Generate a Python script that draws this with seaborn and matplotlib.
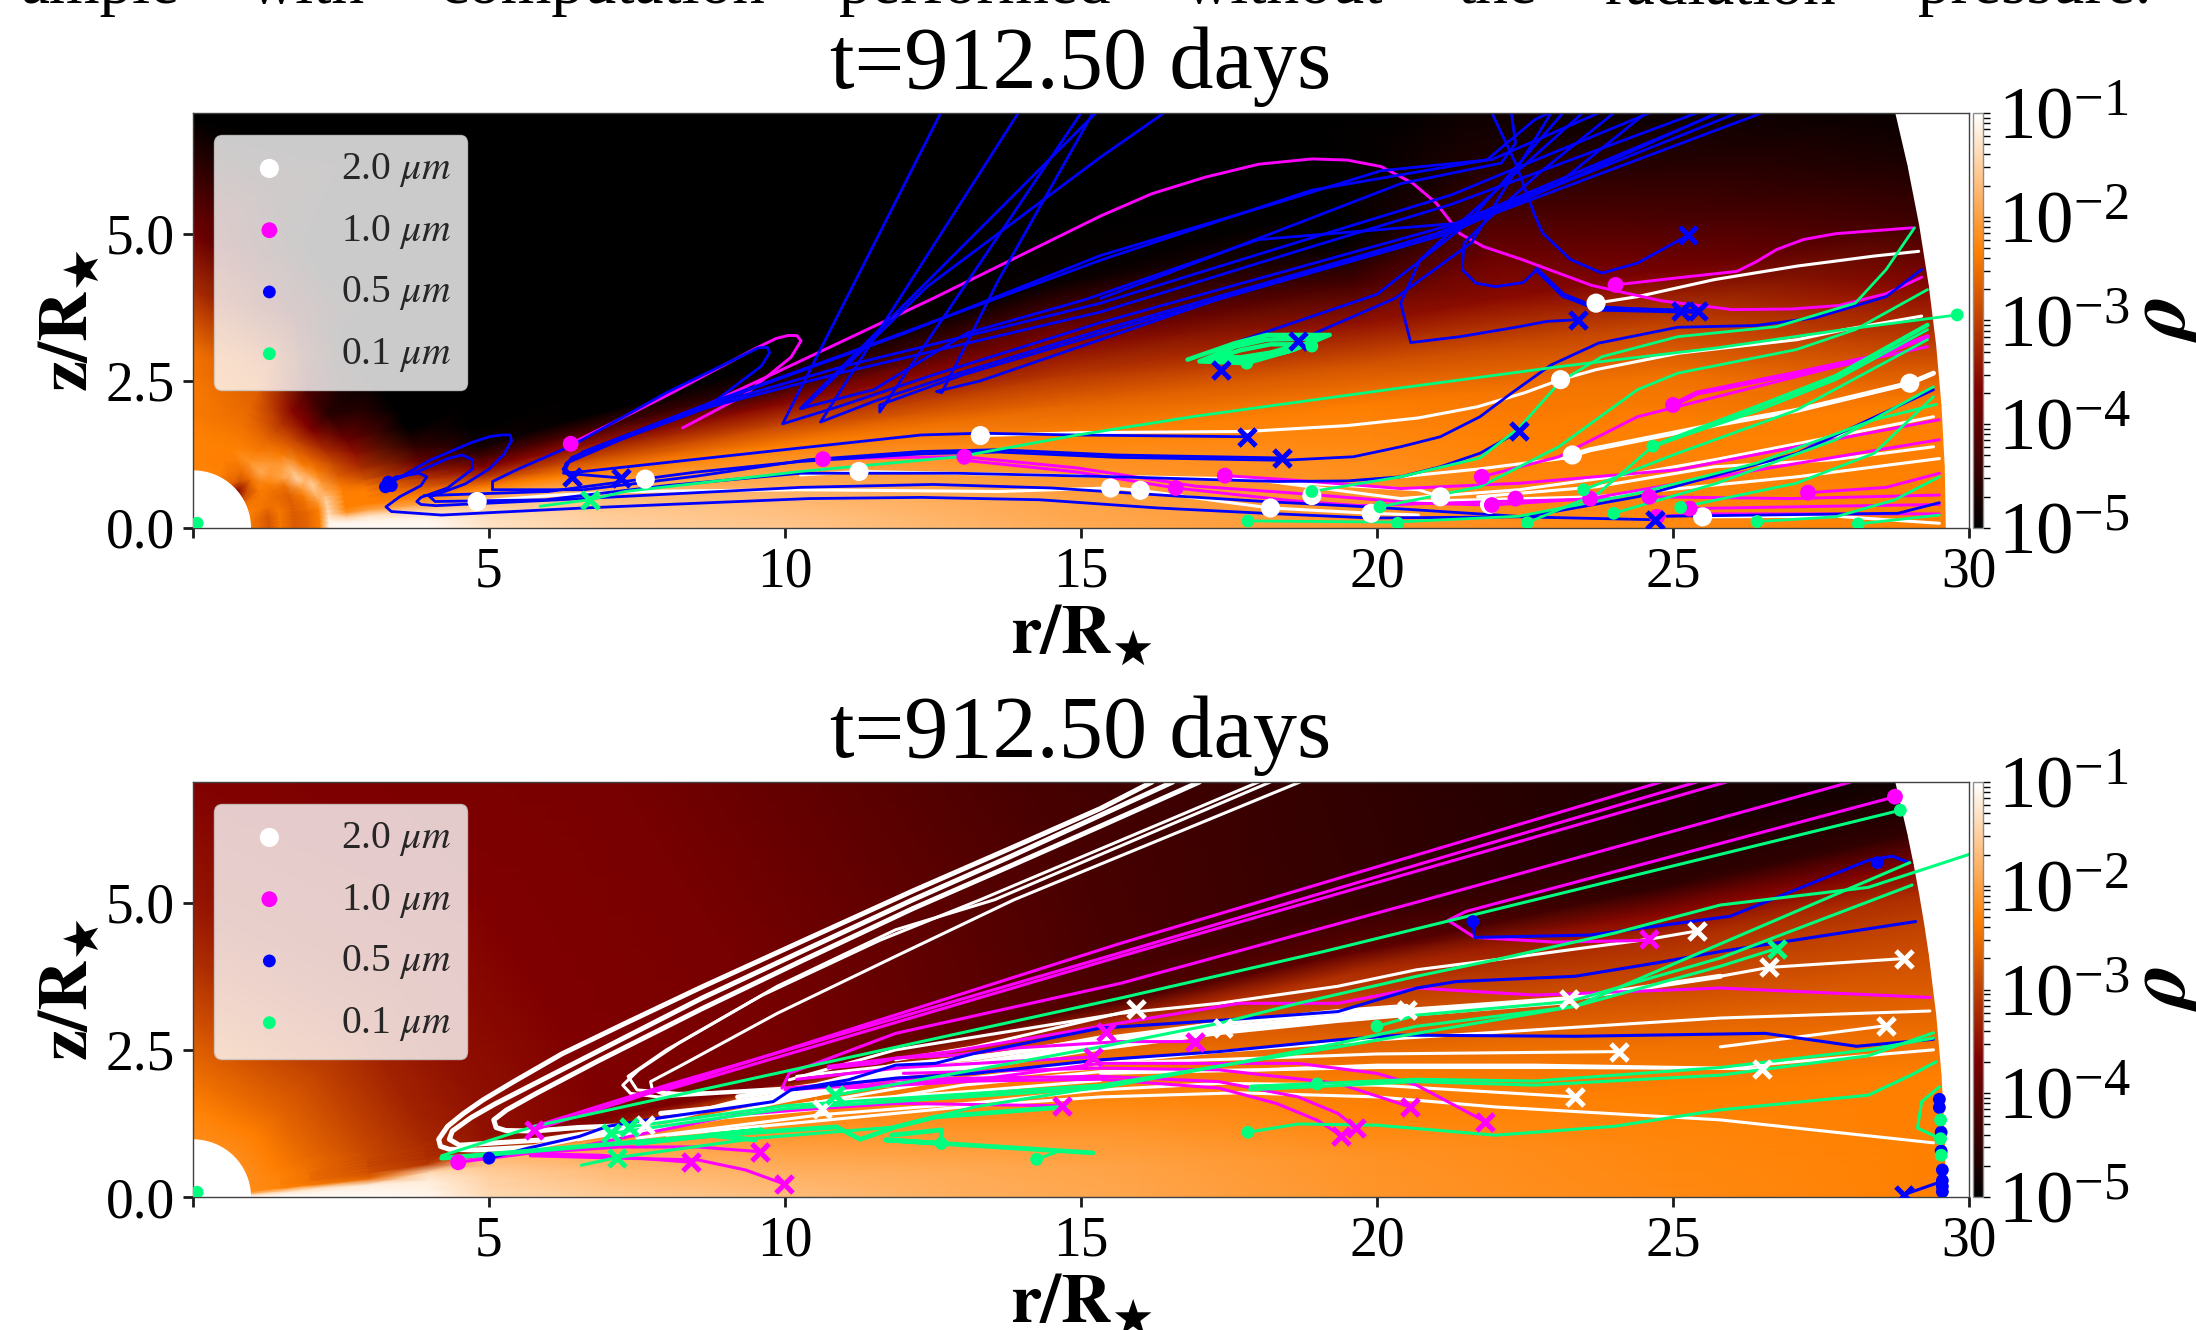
import numpy as np
import matplotlib
matplotlib.use("Agg")
import matplotlib.pyplot as plt
from matplotlib.colors import LinearSegmentedColormap, LogNorm
from matplotlib.patches import Circle
from matplotlib.ticker import LogLocator, NullFormatter
import seaborn as sns

title_text = "t=912.50 days"
para_words = ["ample", "with", "computation", "performed", "without", "the", "radiation", "pressure."]
para_left_px = [21, 249, 439, 839, 1184, 1457, 1605, 1918]
x_ticks = [0, 5, 10, 15, 20, 25, 30]
x_tick_labels = ["", "5", "10", "15", "20", "25", "30"]
y_ticks = [0.0, 2.5, 5.0]
y_tick_labels = ["0.0", "2.5", "5.0"]
grain_labels = ["2.0 $\\mu m$", "1.0 $\\mu m$", "0.5 $\\mu m$", "0.1 $\\mu m$"]
grain_colors = ["#ffffff", "#ff00ff", "#0000ff", "#00ff7f"]
grain_sizes = [190, 130, 85, 85]

# log10 density, one row per radius, one column per angle
top_r = [0.98, 1.28, 1.48, 1.71, 1.95, 2.15, 2.3, 2.6, 3, 4, 5, 7, 10, 15, 20, 22.5, 25, 29.6]
top_theta = [0, 2, 4, 6, 8, 10, 12, 14, 16, 20, 25, 30, 40, 50, 65, 90]
top_log_rho = [
    [-2.33, -2.33, -2.33, -2.33, -2.33, -2.3, -2.3, -2.3, -2.3, -2.4, -2.5, -2.9, -3.6, -2.6, -2.3, -2.3],
    [-2.8, -2.8, -2.8, -2.8, -2.8, -2.75, -2.7, -2.6, -2.5, -2.45, -2.4, -2.4, -2.5, -2.5, -2.35, -2.3],
    [-2.4, -2.4, -2.4, -2.4, -2.4, -2.4, -2.4, -2.45, -2.5, -2.55, -2.5, -2.35, -1.9, -2.15, -2.33, -2.3],
    [-2.75, -2.75, -2.75, -2.75, -2.75, -2.7, -2.7, -2.7, -2.7, -2.65, -2.5, -2.0, -2.1, -2.4, -2.4, -2.35],
    [-2.6, -2.6, -2.6, -2.6, -2.6, -2.5, -2.5, -2.45, -2.4, -2.1, -1.5, -1.7, -2.4, -2.6, -2.5, -2.4],
    [-2.33, -2.33, -2.33, -2.33, -2.33, -2.25, -2.1, -1.9, -1.7, -1.5, -2.0, -2.4, -2.7, -2.9, -2.55, -2.4],
    [-1.1, -1.1, -1.2, -1.3, -1.4, -1.45, -1.5, -1.7, -1.9, -2.1, -2.4, -2.6, -3.0, -3.1, -2.6, -2.4],
    [-1.05, -1.1, -1.5, -2.2, -2.33, -2.33, -2.33, -2.33, -2.4, -2.7, -2.9, -3.2, -3.7, -3.6, -2.7, -2.45],
    [-1.05, -1.1, -1.3, -2.0, -2.33, -2.33, -2.33, -2.5, -2.8, -3.2, -3.5, -3.9, -4.6, -4.2, -2.9, -2.5],
    [-1.05, -1.1, -1.4, -2.0, -2.33, -2.7, -3.1, -3.5, -3.9, -4.5, -5, -5, -5, -5, -4.2, -3.2],
    [-1.3, -1.35, -1.5, -1.8, -2.33, -3.1, -3.7, -4.3, -4.8, -5, -5, -5, -5, -5, -5, -3.8],
    [-1.5, -1.55, -1.7, -1.95, -2.33, -2.9, -3.5, -4.3, -5, -5, -5, -5, -5, -5, -5, -5],
    [-1.6, -1.7, -1.85, -2.05, -2.33, -2.95, -3.6, -4.6, -5, -5, -5, -5, -5, -5, -5, -5],
    [-1.9, -2.0, -2.15, -2.3, -2.6, -3.1, -3.6, -4.2, -4.9, -5, -5, -5, -5, -5, -5, -5],
    [-2.1, -2.15, -2.25, -2.35, -2.8, -3.5, -4.3, -5, -5, -5, -5, -5, -5, -5, -5, -5],
    [-2.2, -2.28, -2.33, -2.45, -2.9, -3.55, -3.9, -4.3, -4.7, -5, -5, -5, -5, -5, -5, -5],
    [-2.25, -2.3, -2.33, -2.5, -3.0, -3.75, -4.2, -4.55, -4.85, -5, -5, -5, -5, -5, -5, -5],
    [-2.33, -2.33, -2.33, -3.0, -3.6, -4.3, -4.7, -4.95, -5, -5, -5, -5, -5, -5, -5, -5],
]

# same for the lower panel
bot_r = [0.98, 1.5, 2, 3, 4, 5, 7, 10, 13, 16, 20, 25, 29.6]
bot_theta = [0, 2, 4, 6, 8, 9, 10, 11, 12, 14, 20, 45, 90]
bot_log_rho = [
    [-1.1, -1.3, -2.0, -2.2, -2.2, -2.2, -2.2, -2.2, -2.2, -2.2, -2.2, -2.2, -2.2],
    [-1.05, -1.1, -1.6, -2.3, -2.3, -2.3, -2.3, -2.3, -2.3, -2.3, -2.35, -2.35, -2.3],
    [-1.05, -1.1, -1.3, -2.4, -2.5, -2.5, -2.5, -2.5, -2.5, -2.5, -2.55, -2.6, -2.5],
    [-1.05, -1.1, -1.2, -2.6, -2.85, -2.85, -2.9, -2.9, -2.9, -2.9, -2.95, -3.0, -2.85],
    [-1.1, -1.15, -1.2, -1.4, -3.1, -3.15, -3.2, -3.2, -3.2, -3.25, -3.3, -3.3, -3.2],
    [-1.4, -1.45, -1.5, -1.6, -1.75, -3.3, -3.4, -3.45, -3.5, -3.5, -3.5, -3.5, -3.45],
    [-1.55, -1.65, -1.75, -1.9, -2.1, -2.3, -3.6, -3.67, -3.67, -3.67, -3.67, -3.67, -3.65],
    [-1.7, -1.8, -1.95, -2.1, -2.3, -2.4, -2.7, -3.75, -3.75, -3.75, -3.75, -3.75, -3.7],
    [-1.85, -1.9, -2.05, -2.2, -2.35, -2.5, -2.65, -3.3, -4.0, -4.0, -4.0, -4.0, -4.0],
    [-1.95, -2.0, -2.12, -2.28, -2.42, -2.55, -2.7, -3.3, -4.2, -4.25, -4.25, -4.25, -4.25],
    [-2.12, -2.15, -2.3, -2.4, -2.7, -2.85, -3.05, -3.2, -4.0, -4.45, -4.45, -4.45, -4.45],
    [-2.25, -2.28, -2.33, -2.5, -2.85, -3.0, -3.2, -3.6, -4.5, -4.65, -4.65, -4.65, -4.65],
    [-2.33, -2.33, -2.33, -2.6, -2.85, -3.0, -3.2, -3.7, -4.5, -4.85, -4.85, -4.85, -4.85],
]

# top panel trajectories (r, z)
top_white = [
    [(13.3, 1.57), (15, 1.62), (17.8, 1.64), (19.5, 1.74), (20.7, 1.87), (21.7, 2.06), (22.5, 2.3), (23.1, 2.52), (23.7, 2.69), (25.1, 2.97), (27.1, 3.2), (27.9, 3.37), (29.2, 3.6)],
    [(23.7, 3.82), (24.4, 3.93), (25.7, 4.22), (27.1, 4.45), (28.4, 4.62), (29.15, 4.7)],
    [(20.4, 0.87), (21.7, 1.0), (23.2, 1.19)],
    [(17.43, 0.89), (20.4, 0.5), (22.4, 0.65), (24.4, 0.93), (25.7, 1.16), (27.7, 1.55), (29.4, 1.89)],
    [(21.7, 0.53), (23.7, 0.7), (25.7, 1.04), (27.7, 1.16), (29.4, 1.38)],
    [(20.5, 0.45), (23.7, 0.53), (27.1, 0.87), (29.5, 1.18)],
    [(25.5, 0.19), (27.75, 0.2), (29.5, 0.08)],
    [(10.26, 0.9), (11.25, 0.96), (14.3, 0.9), (17.43, 0.84), (20.7, 0.65), (21.07, 0.53)],
    [(4.8, 0.45), (6, 0.55), (7.3, 0.62), (10.26, 0.65), (13.6, 0.62), (15.5, 0.68), (16, 0.64), (17.6, 0.42), (18.2, 0.34), (19.9, 0.25), (20.7, 0.22)],
]
top_white_thick = [
    [(23.3, 1.24), (23.6, 1.33), (24.7, 1.55), (25.7, 1.75), (27.1, 2.0), (29.0, 2.46), (29.4, 2.63)],
]
top_white_start = [(13.3, 1.57), (23.1, 2.52), (23.7, 3.82), (29.0, 2.46), (23.3, 1.24), (21.07, 0.53), (25.5, 0.19),
                   (11.25, 0.96), (4.8, 0.45), (7.64, 0.83), (15.5, 0.68), (16, 0.64), (18.2, 0.34), (18.9, 0.55), (19.9, 0.25), (21.9, 0.4)]

top_magenta = [
    [(6.38, 1.43), (8, 2.25), (9.5, 3.05), (9.85, 3.22), (10.05, 3.27), (10.2, 3.27), (10.27, 3.18), (10.1, 2.9), (9.3, 2.25), (8.27, 1.7)],
    [(8.7, 2.1), (10.5, 2.95), (12.5, 3.9), (15.33, 5.3), (16.2, 5.68), (17.1, 5.96), (18, 6.18), (18.9, 6.27), (19.5, 6.25), (20.07, 6.14), (20.6, 5.86), (21, 5.52), (21.4, 5.0), (21.8, 4.78), (22.45, 4.56), (23.63, 4.12), (24.8, 3.86), (26, 3.71), (27, 3.72), (27.8, 3.78), (28.6, 3.98), (29.2, 4.26)],
    [(24.03, 4.13), (25.08, 4.25), (26.08, 4.36), (26.4, 4.52), (26.75, 4.73), (27.2, 4.9), (27.75, 5.0), (29.05, 5.1)],
    [(21.77, 0.87), (23.07, 1.21), (24.4, 1.89), (25.74, 2.23), (27.75, 2.74), (29.3, 3.08)],
    [(27.28, 0.6), (28.6, 0.69), (29.5, 0.93)],
    [(24.6, 0.53), (27, 0.5), (29.5, 0.56)],
    [(25.28, 0.33), (29.5, 0.4)],
    [(24.73, 0.19), (25.5, 0.24), (29.5, 0.24)],
    [(17.43, 0.89), (18.5, 0.82), (20.4, 0.67), (22.4, 0.76), (25.08, 0.99), (27.08, 1.38), (29.5, 1.84)],
    [(10.64, 1.17), (12, 1.2), (13.03, 1.21), (14.94, 1.02), (16.94, 0.71), (18.5, 0.6), (20.73, 0.42), (21.94, 0.39), (23.6, 0.5), (25.74, 0.87), (29.5, 1.5)],
    [(13.03, 1.15), (14.94, 0.95), (16.6, 0.68), (18.5, 0.47), (19.7, 0.38), (22, 0.45), (24, 0.5)],
]
top_magenta_thick = [
    [(25.0, 2.09), (25.4, 2.29), (27.08, 2.63), (28.4, 2.91), (29.3, 3.25)],
]
top_magenta_start = [(6.38, 1.43), (24.03, 4.13), (25.0, 2.09), (21.77, 0.87), (27.28, 0.6), (21.94, 0.39), (22.34, 0.5),
                     (23.6, 0.5), (24.6, 0.53), (25.28, 0.33), (24.73, 0.19), (10.64, 1.17), (13.03, 1.21), (16.6, 0.68), (17.43, 0.89)]

top_blue = [
    [(3.22, 0.73), (3.42, 0.87), (3.82, 0.93), (3.95, 0.87), (3.85, 0.72), (3.49, 0.53), (3.26, 0.36), (3.35, 0.28), (4.2, 0.22), (6.6, 0.34), (10.4, 0.5), (12.3, 0.52), (14.3, 0.48), (16.3, 0.34), (18.1, 0.25), (19.9, 0.17), (22.4, 0.19), (24.7, 0.14)],
    [(3.29, 0.78), (3.9, 1.0), (4.3, 1.18), (4.55, 1.24), (4.72, 1.16), (4.72, 1.0), (4.3, 0.68), (3.85, 0.52), (3.78, 0.45), (3.85, 0.4), (4.1, 0.38), (6.0, 0.47), (8.5, 0.6), (10.26, 0.69), (12.5, 0.74), (14.5, 0.68), (16.5, 0.55), (18.1, 0.45), (20, 0.35), (22.5, 0.19), (24.4, 0.53), (27.1, 1.27), (29.4, 2.35)],
    [(3.3, 0.75), (4.0, 1.15), (4.7, 1.45), (5.0, 1.55), (5.2, 1.58), (5.36, 1.58), (5.38, 1.48), (5.25, 1.25), (5.0, 1.0), (4.6, 0.75), (4.2, 0.6), (4.0, 0.53), (4.09, 0.45), (5.96, 0.48), (8, 0.72), (10.26, 0.93), (12.9, 0.93), (15.6, 0.87), (18.3, 0.79), (19.5, 0.8), (20.4, 0.87), (21.07, 1.04), (21.74, 1.27), (22.4, 1.64)],
    [(5.06, 0.65), (6.6, 0.65), (8.5, 0.88), (10.4, 1.16), (12.3, 1.3), (13.6, 1.33), (15.6, 1.24), (18.4, 1.19)],
    [(3.9, 0.55), (6.0, 0.62), (8.5, 0.95), (10.26, 1.13), (12.3, 1.26), (13.6, 1.29), (15.6, 1.2), (18.4, 1.15), (19.6, 1.21), (20.4, 1.38), (21.07, 1.55), (21.74, 1.89), (22.27, 2.29), (22.94, 2.77), (23.74, 3.14), (25.08, 3.41), (26.4, 3.44), (27.4, 3.57), (28.6, 3.93), (29.2, 4.39)],
    [(17.8, 1.55), (14.9, 1.58), (13.3, 1.61), (12.3, 1.58), (10.26, 1.36), (6.6, 0.96), (6.26, 0.93), (6.3, 1.1), (6.6, 1.3), (8.77, 2.14), (11, 2.95), (15.33, 4.55), (18.9, 5.74), (21.85, 6.25), (22.67, 6.94), (22.9, 7.05)],
    [(5.06, 0.65), (5.06, 0.79), (5.49, 1.0), (6.4, 1.4), (8.0, 2.3), (9.55, 3.06), (9.7, 3.07), (9.74, 2.98), (9.6, 2.75), (8.77, 2.12), (12, 3.3), (15.33, 4.63), (18.3, 5.52), (20.07, 6.07), (21.94, 6.26), (23.74, 7.05)],
    [(6.4, 0.87), (6.27, 0.95), (6.35, 1.12), (7.5, 1.62), (8.77, 2.1), (11, 2.75), (15.33, 3.82), (18.9, 4.93), (21.26, 5.66), (24.6, 7.05)],
    [(7.23, 0.85), (6.4, 0.92), (6.25, 1.0), (6.4, 1.2), (8.7, 2.05), (11, 2.65), (15.33, 3.67), (18.9, 4.78), (21.26, 5.5), (25.4, 7.05)],
    [(12.63, 7.05), (9.96, 1.77), (10.93, 2.07), (12.5, 2.6), (15.33, 3.49), (21.26, 5.15), (25.77, 7.05)],
    [(13.94, 7.05), (10.6, 1.8), (11.5, 2.15), (13, 2.65), (15.33, 3.36), (21.26, 5.07), (26.5, 7.05)],
    [(15.25, 7.05), (10.26, 2.03), (11.5, 2.35), (13.07, 3.31), (15.07, 3.88), (18, 4.9), (21.4, 5.18), (23.07, 5.86), (24.54, 7.05)],
    [(15.0, 7.05), (11.6, 1.97), (11.6, 2.09), (13, 2.6), (15.33, 3.3), (17.3, 3.88), (21, 5.0), (26.08, 7.05)],
    [(15.2, 7.05), (13.6, 4.2), (12.65, 2.3), (12.56, 2.32), (13.3, 2.5), (15.33, 3.2), (17.3, 3.88), (21.2, 5.0), (25.74, 7.05)],
    [(21.94, 7.05), (22.34, 6.2), (22.67, 5.3), (22.8, 5.01), (23.27, 4.56), (23.8, 4.33), (24.4, 4.5), (25.25, 4.97)],
    [(24, 7.05), (22.74, 6.03), (21.87, 5.24), (21.47, 4.84), (21.44, 4.39), (21.67, 4.16), (22, 4.1), (22.47, 4.17), (22.7, 4.39), (23.14, 3.93), (23.74, 3.76), (25.14, 3.68)],
    [(23.47, 7.05), (21.4, 5.18), (20.73, 4.56), (20.4, 3.82), (20.57, 3.15), (21.4, 3.25), (22.4, 3.42), (22.87, 3.51), (23.4, 3.54)],
    [(22.27, 7.05), (22.34, 6.54), (22.1, 6.2), (20.4, 5.85), (16.4, 4.3), (15.33, 3.9)],
    [(10.3, 2.03), (12.4, 4.1), (15.33, 6.3), (16.4, 7.05)],
    [(17.6, 3.15), (20, 3.97), (21.5, 5.15), (23.14, 7.05)],
    [(18.77, 3.23), (20.3, 3.9), (21.6, 4.85), (22.94, 7.05)],
    [(24.9, 0.2), (28.8, 0.25), (29.5, 0.43)],
]
top_blue_thick = [
    [(22.7, 4.39), (23.14, 3.96), (23.74, 3.72), (25.43, 3.68)],
]
top_blue_start = [(3.29, 0.73), (3.3, 0.78), (3.25, 0.7), (3.35, 0.72)]
top_blue_end = [(6.4, 0.87), (7.23, 0.85), (17.8, 1.55), (18.4, 1.19), (22.4, 1.64), (23.4, 3.54), (25.14, 3.68), (25.43, 3.68),
                (25.25, 4.97), (24.7, 0.14), (17.37, 2.68), (18.67, 3.17)]

top_green = [
    [(29.8, 3.62), (27.88, 3.37), (25.74, 3.06), (23.07, 2.74), (20.4, 2.38), (16.94, 1.9), (14.94, 1.58), (12.93, 1.21), (10.26, 0.96), (7.3, 0.62), (6.7, 0.48), (5.86, 0.37)],
    [(18.9, 0.62), (20.4, 0.87), (21.74, 1.19), (22.4, 1.7), (23.1, 2.49), (23.8, 2.91), (25.08, 3.25), (26.75, 3.42), (28.08, 3.82), (28.6, 4.39), (29.08, 5.1)],
    [(20.05, 0.36), (21.74, 0.7), (23.07, 1.38), (24.4, 2.35), (25.08, 2.63), (27.08, 3.03), (28.08, 3.37), (29.3, 4.05)],
    [(22.54, 0.09), (23.74, 0.59), (24.66, 1.39), (26.4, 1.98), (27.75, 2.52), (29.3, 3.37)],
    [(23.49, 0.65), (25.08, 1.27), (27.08, 2.0), (29.3, 3.2)],
    [(24, 0.25), (25.74, 0.76), (27.75, 1.5), (29.4, 2.4)],
    [(25.13, 0.35), (27.08, 0.76), (28.4, 1.27), (29.4, 2.23)],
    [(26.42, 0.11), (27.75, 0.19), (28.75, 0.48), (29.5, 0.87)],
    [(28.13, 0.07), (29.5, 0.22)],
    [(17.82, 0.12), (20.3, 0.1), (22.4, 0.2), (24.4, 0.59), (26.4, 1.1), (28.4, 1.84), (29.45, 2.1)],
]
top_green_thick = [
    [(24.66, 1.39), (26.4, 2.05), (27.75, 2.58), (29.3, 3.45)],
    [(16.8, 2.86), (17.6, 3.14), (18.14, 3.28), (19.2, 3.28), (18.6, 3.03), (17.8, 2.8), (17, 2.83), (17.6, 3.08), (18.14, 3.2), (19, 3.22), (18.5, 3.0), (17.8, 2.85), (17.2, 2.87), (17.7, 3.02), (18.2, 3.12), (18.7, 3.12), (18.2, 2.98), (17.7, 2.9), (17.4, 2.9)],
]
top_green_start = [(0.07, 0.08), (29.8, 3.62), (18.9, 0.62), (20.05, 0.36), (22.54, 0.09), (24.66, 1.39), (23.49, 0.65), (24, 0.25),
                   (25.13, 0.35), (26.42, 0.11), (28.13, 0.07), (17.82, 0.12), (20.35, 0.08), (17.8, 2.8), (18.9, 3.09)]
top_green_end = [(6.7, 0.48)]

# lower panel trajectories (r, z)
bot_white_thick = [
    [(16.2, 7.05), (15.33, 6.6), (13.8, 5.92), (12.16, 5.2), (10.3, 4.35), (8.6, 3.57), (7.3, 2.95), (6.23, 2.43), (5.4, 1.95), (4.9, 1.65), (4.57, 1.42), (4.3, 1.2), (4.15, 0.98), (4.18, 0.86), (4.33, 0.81), (4.8, 0.8), (5.75, 0.85), (7.63, 1.22)],
    [(17.0, 7.05), (15.33, 6.3), (13.8, 5.62), (12.16, 4.9), (10.3, 4.02), (8.6, 3.2), (6.82, 2.3), (5.8, 1.76), (5.3, 1.48), (5.08, 1.31), (5.12, 1.18), (5.28, 1.13), (5.75, 1.12), (6.5, 1.18), (7.5, 1.22)],
    [(16.55, 7.05), (13.8, 5.78), (12.16, 5.05), (10.3, 4.18), (8.6, 3.38), (6.4, 2.25), (5.1, 1.58), (4.7, 1.35), (4.38, 1.12), (4.33, 0.98), (4.5, 0.88), (5.9, 0.97), (7.63, 1.22), (9.2, 1.62), (10.53, 1.82), (11.87, 2.16), (13.2, 2.27), (15.33, 2.61), (17.4, 2.87), (19.34, 3.07), (20.5, 3.17), (23.25, 3.37), (25.8, 3.75)],
    [(9.2, 1.7), (10.53, 1.9), (11.87, 2.24), (13.2, 2.36), (15.33, 2.68), (17.4, 2.95), (19.34, 3.15), (20.5, 3.24)],
    [(7.9, 1.42), (9.2, 1.55), (10.53, 1.75), (11.87, 2.08), (13.2, 2.2), (15.33, 2.53), (17.4, 2.8), (19.34, 3.0), (20.5, 3.1), (23.25, 3.32)],
]
bot_white = [
    [(18.2, 7.05), (13.54, 5.05), (11.87, 4.54), (9.87, 3.58), (8.2, 2.61), (7.53, 2.16), (7.26, 1.9), (7.39, 1.76), (7.86, 1.7), (9.87, 1.82)],
    [(18.7, 7.05), (13.87, 5.05), (11.87, 4.09), (9.87, 3.12), (8.2, 2.21), (7.73, 1.96), (7.76, 1.82), (8, 1.73), (10, 1.85)],
    [(18.0, 7.05), (13.3, 5.05), (11.6, 4.36), (9.6, 3.42), (8.0, 2.5), (7.35, 2.05), (7.5, 1.82), (8.2, 1.76), (10, 1.8)],
    [(10.07, 1.99), (11.87, 2.5), (15.67, 3.12), (17.33, 3.29), (19.34, 3.58), (20.67, 3.86), (22, 4.03), (24.6, 4.38), (25.41, 4.52)],
    [(11.87, 2.33), (13.2, 2.55), (15.93, 3.19)],
    [(25.8, 3.75), (26.62, 3.9), (28.9, 4.05)],
    [(5.8, 0.95), (7.6, 1.14), (10.6, 1.62), (12.5, 1.95), (15.33, 2.27), (17.33, 2.47), (20, 2.67), (25.8, 3.04), (29.34, 3.16)],
    [(6.5, 0.97), (8, 1.22), (10.6, 1.75), (13, 2.1), (15.33, 2.27), (18.67, 2.38), (20, 2.43), (24.08, 2.47)],
    [(7, 1.0), (9, 1.35), (10.63, 1.5), (13, 1.9), (15.33, 2.13), (18, 2.16), (20, 2.24), (22.67, 2.24), (25.8, 2.19), (29.4, 2.5)],
    [(15.33, 2.1), (20, 2.2), (23, 2.2), (26.5, 2.18)],
    [(25.8, 2.55), (28.6, 2.91)],
    [(7.5, 1.0), (10.63, 1.4), (13.2, 1.6), (15.33, 1.82), (17.33, 1.93), (20, 1.9), (23.35, 1.7)],
    [(8, 1.05), (10.63, 1.3), (13.2, 1.55), (15.33, 1.7), (17.67, 1.77), (20, 1.7), (22, 1.53), (25.8, 1.31), (29.4, 0.92)],
    [(8.6, 1.5), (11, 1.82), (13.2, 2.02), (15.33, 2.2)],
    [(8.2, 1.3), (10.63, 1.62), (13.2, 1.8), (15.33, 1.98)],
    [(10.2, 2.05), (12, 2.25), (14, 2.48), (15.5, 2.75)],
]
bot_white_end = [(7.63, 1.22), (10.63, 1.5), (15.93, 3.19), (17.4, 2.87), (20.5, 3.17), (23.25, 3.37), (24.08, 2.47), (23.35, 1.7),
                 (25.41, 4.52), (26.62, 3.9), (28.9, 4.05), (28.6, 2.91), (26.5, 2.18)]

bot_magenta = [
    [(5.76, 1.14), (15.67, 4.31), (24.8, 7.05)],
    [(5.76, 1.2), (8, 1.9), (15.67, 4.15), (25.4, 7.05)],
    [(8, 1.82), (15.67, 4.09), (25.9, 7.05)],
    [(9.95, 1.85), (10.07, 2.1), (11.87, 2.78), (15.67, 3.63), (21, 5.1), (28, 7.05)],
    [(28.75, 6.8), (21.5, 4.85), (21.2, 4.7), (21.65, 4.41), (23, 4.33), (24.6, 4.36)],
    [(10.73, 2.19), (11.54, 2.27), (11.87, 2.36), (12.87, 2.41), (13.87, 2.53), (15.67, 2.64), (16.93, 2.64)],
    [(10, 1.82), (11.87, 1.93), (13.2, 1.99), (15.33, 2.27), (18.67, 2.27), (20, 2.1), (20.67, 1.9), (21.83, 1.28)],
    [(10, 1.85), (11.87, 1.99), (13.2, 2.02), (15.33, 2.05), (17.33, 1.96), (18.67, 1.7), (19.34, 1.42), (19.64, 1.18)],
    [(11, 1.85), (13.2, 1.97), (15.33, 2.0), (17.33, 1.85), (18.3, 1.59), (19, 1.3), (19.4, 1.04)],
    [(12, 2.1), (15.33, 2.19), (17.33, 2.16), (19.34, 1.93), (20.56, 1.53)],
    [(10.73, 2.22), (12.8, 2.47), (15.33, 2.9), (17.67, 3.29), (19.34, 3.29), (20.67, 3.55), (22.67, 3.43), (25.8, 3.55), (29.34, 3.39)],
    [(4.48, 0.59), (6.5, 0.85), (9.2, 1.4), (10.53, 1.5), (11.87, 1.59), (14.68, 1.55)],
    [(4.48, 0.66), (5.6, 0.74), (7.2, 0.85), (8.53, 0.85), (9.57, 0.77)],
    [(5.6, 0.74), (6.86, 0.71), (8.42, 0.59)],
    [(5.7, 0.7), (7.19, 0.66), (8.53, 0.63), (9.33, 0.46), (9.99, 0.22)],
    [(10.2, 2.0), (12, 2.2), (15.2, 2.38)],
]
bot_magenta_start = [(4.48, 0.59), (28.75, 6.8)]
bot_magenta_end = [(5.76, 1.14), (9.57, 0.77), (8.42, 0.59), (9.99, 0.22), (14.68, 1.55), (15.43, 2.81), (15.2, 2.38), (16.93, 2.64),
                   (20.56, 1.53), (21.83, 1.28), (19.4, 1.04), (19.64, 1.18), (24.6, 4.38)]

bot_blue = [
    [(5.0, 0.66), (5.66, 0.83), (6.53, 1.03), (7, 1.2), (7.86, 1.34), (9.2, 1.53), (9.8, 1.62), (10.1, 1.82), (11.07, 1.99), (11.87, 2.24), (12.54, 2.27), (13.2, 2.44), (15.33, 2.87), (17.33, 3.0), (19.34, 3.15), (20.67, 3.55), (21.34, 3.66), (23.35, 3.75), (24.68, 3.97), (25.8, 4.17), (29.1, 4.68)],
    [(10.1, 1.82), (11.87, 2.02), (13.2, 2.1), (15.33, 2.33), (17.33, 2.47), (19.34, 2.67), (20.4, 2.75), (23.35, 2.73), (26.56, 2.78), (28.1, 2.56), (29.4, 2.68)],
    [(21.62, 4.68), (21.65, 4.41), (23.6, 4.45), (25.97, 4.77), (28.3, 5.72), (28.7, 5.79), (29, 5.68)],
    [(28.9, 0.04), (29.5, 0.25)],
]
bot_blue_start = [(5.0, 0.66), (21.62, 4.68), (28.45, 5.68), (29.5, 1.66), (29.5, 1.52), (29.53, 1.1), (29.53, 0.78), (29.55, 0.46),
                  (29.55, 0.28), (29.55, 0.18), (29.55, 0.09)]
bot_blue_end = [(28.9, 0.04)]

bot_green = [
    [(4.2, 0.7), (5.76, 1.2), (15.67, 3.38), (19.1, 4.17), (28.84, 6.57)],
    [(10.85, 1.73), (15.33, 2.55), (17.33, 2.95), (18.67, 3.29), (20.67, 3.75), (22, 4.03), (24, 4.48), (25.8, 4.96), (28.3, 5.26), (30, 5.82)],
    [(7.06, 1.08), (10, 1.5), (15.33, 1.85), (17.33, 2.22), (19.34, 2.61), (20.67, 2.9), (23.35, 3.24), (25.8, 3.92), (26.75, 4.22)],
    [(20, 2.9), (20.67, 3.09), (23.25, 3.32), (25.8, 4.06), (29.04, 5.3)],
    [(7.36, 1.19), (10, 1.55), (15.33, 1.9), (19.34, 2.55), (20.67, 2.78), (23.35, 3.24), (25.8, 4.3), (29, 5.68)],
    [(17.82, 1.1), (18.67, 1.24), (20, 1.22), (22, 1.05), (24, 1.2), (25.8, 1.48), (28.3, 1.73), (29.04, 2.08), (29.45, 2.3)],
    [(18.99, 1.92), (17.87, 1.88), (17.85, 1.82), (20.67, 1.96), (22.67, 1.9), (25.8, 2.07), (28.3, 2.4), (29.4, 2.79)],
    [(17.87, 1.88), (20.67, 2.0), (22.67, 1.97), (25.8, 2.2), (28.3, 2.5), (29.4, 2.7)],
    [(6.56, 0.54), (7.16, 0.67), (9.53, 1.0), (11.87, 1.19), (13.2, 1.53), (15.67, 1.93)],
    [(29.5, 1.87), (29.2, 1.62), (29.13, 1.17), (29.52, 0.99)],
    [(14.25, 0.64), (14.6, 0.77)],
]
bot_green_thick = [
    [(4.2, 0.66), (5.19, 0.74), (9.2, 1.08), (10.87, 1.19), (11.27, 0.98), (11.87, 1.19), (12.54, 1.36), (14.74, 1.53)],
    [(11.8, 1.05), (12.64, 1.14), (12.64, 0.91), (11.7, 0.97), (15.2, 0.75)],
    [(7.5, 0.91), (9.6, 1.14), (8.7, 1.05), (9.5, 0.97)],
]
bot_green_start = [(0.07, 0.08), (28.84, 6.57), (20, 2.9), (17.82, 1.1), (18.99, 1.92), (14.25, 0.64), (12.64, 0.91), (29.52, 1.31), (29.52, 0.99), (29.53, 0.71)]
bot_green_end = [(7.06, 1.08), (7.36, 1.19), (7.16, 0.67), (10.85, 1.73), (26.75, 4.22)]

sns.set_theme(style="ticks")
plt.rcParams["font.family"] = ["Liberation Serif", "DejaVu Serif"]
plt.rcParams["mathtext.fontset"] = "stix"

rho_cmap = LinearSegmentedColormap.from_list("rho", ["#000000", "#800000", "#ff8000", "#ffffff"])
rho_norm = LogNorm(1e-5, 1e-1)

W, H = 2196, 1330
fig = plt.figure(figsize=(W / 100, H / 100), dpi=100, facecolor="white")


def draw_field(ax, r, theta, log_rho):
    rr, tt = np.meshgrid(r, np.radians(theta), indexing="ij")
    mesh = ax.pcolormesh(rr * np.cos(tt), rr * np.sin(tt), 10.0 ** np.array(log_rho),
                         shading="gouraud", cmap=rho_cmap, norm=rho_norm, rasterized=True)
    # the star itself stays blank
    ax.add_patch(Circle((0, 0), r[0], facecolor="white", edgecolor="none", zorder=1.5))
    return mesh


def draw_paths(ax, paths, color, lw):
    for path in paths:
        r, z = zip(*path)
        sns.lineplot(x=list(r), y=list(z), sort=False, estimator=None, color=color, linewidth=lw,
                     legend=False, ax=ax, solid_joinstyle="round")


def draw_points(ax, points, color, size, marker="o"):
    r, z = zip(*points)
    if marker == "x":
        sns.scatterplot(x=list(r), y=list(z), color=color, marker="x", s=150, linewidth=3.6, legend=False, ax=ax, zorder=5)
    else:
        sns.scatterplot(x=list(r), y=list(z), color=color, s=size, edgecolor="none", legend=False, ax=ax, zorder=5)


def style_panel(ax, top_px, bottom_px):
    ax.set_xlim(0, 30)
    ax.set_ylim(0, 7.05)
    ax.set_xticks(x_ticks)
    ax.set_xticklabels(x_tick_labels)
    ax.set_yticks(y_ticks)
    ax.set_yticklabels(y_tick_labels)
    ax.tick_params(axis="both", labelsize=40, length=7, width=2, color="0.1", pad=6, labelcolor="black")
    for spine in ax.spines.values():
        spine.set_visible(True)
        spine.set_color("0.25")
        spine.set_linewidth(1.0)
    ax.set_title(title_text, fontsize=63.5, pad=18, color="black")
    ax.set_xlabel(r"$\mathbf{r/R}_{\bigstar}$", fontsize=50, labelpad=4, color="black")
    ax.set_ylabel(r"$\mathbf{z/R}_{\bigstar}$", fontsize=50, labelpad=2, color="black")
    # legend from the four grain sizes, empty scatters only carry the handles
    for lab, col, sz in zip(grain_labels, grain_colors, grain_sizes):
        ax.scatter([], [], s=sz, color=col, edgecolor="none", label=lab)
    ax.legend(loc="upper left", bbox_to_anchor=(0.0118, 0.947), borderaxespad=0, fontsize=28.5, frameon=True,
              framealpha=0.8, facecolor="white", edgecolor="0.8", labelspacing=0.6, handletextpad=0.82, borderpad=0.4)
    cax = fig.add_axes([1973 / W, 1 - bottom_px / H, 10 / W, (bottom_px - top_px) / H])
    cbar = fig.colorbar(ax.collections[0], cax=cax)
    cbar.outline.set_edgecolor("0.55")
    cbar.outline.set_linewidth(1.0)
    cax.yaxis.set_major_locator(LogLocator(base=10.0, subs=(1.0,), numticks=12))
    cax.yaxis.set_minor_locator(LogLocator(base=10.0, subs=np.arange(2, 10), numticks=12))
    cax.yaxis.set_minor_formatter(NullFormatter())
    cax.tick_params(which="major", labelsize=54, length=5, width=1.0, color="black", pad=6, labelcolor="black")
    cax.tick_params(which="minor", length=5, width=1.0, color="black")
    cbar.set_label(r"$\boldsymbol{\rho}$", fontsize=62, labelpad=-4, color="black")


ax_top = fig.add_axes([193 / W, 1 - 528 / H, 1776 / W, 415 / H])
draw_field(ax_top, top_r, top_theta, top_log_rho)
draw_paths(ax_top, top_white, grain_colors[0], 2.2)
draw_paths(ax_top, top_white_thick, grain_colors[0], 3.6)
draw_paths(ax_top, top_magenta, grain_colors[1], 2.1)
draw_paths(ax_top, top_magenta_thick, grain_colors[1], 3.6)
draw_paths(ax_top, top_blue, grain_colors[2], 2.0)
draw_paths(ax_top, top_blue_thick, grain_colors[2], 3.6)
draw_paths(ax_top, top_green, grain_colors[3], 2.0)
draw_paths(ax_top, top_green_thick, grain_colors[3], 3.2)
draw_points(ax_top, top_white_start, grain_colors[0], grain_sizes[0])
draw_points(ax_top, top_magenta_start, grain_colors[1], grain_sizes[1])
draw_points(ax_top, top_blue_start, grain_colors[2], grain_sizes[2])
draw_points(ax_top, top_blue_end, grain_colors[2], 0, marker="x")
draw_points(ax_top, top_green_start, grain_colors[3], grain_sizes[3])
draw_points(ax_top, top_green_end, grain_colors[3], 0, marker="x")
style_panel(ax_top, 113, 528)

ax_bot = fig.add_axes([193 / W, 1 - 1197 / H, 1776 / W, 415 / H])
draw_field(ax_bot, bot_r, bot_theta, bot_log_rho)
draw_paths(ax_bot, bot_white_thick, grain_colors[0], 3.6)
draw_paths(ax_bot, bot_white, grain_colors[0], 2.2)
draw_paths(ax_bot, bot_magenta, grain_colors[1], 2.2)
draw_paths(ax_bot, bot_blue, grain_colors[2], 2.2)
draw_paths(ax_bot, bot_green, grain_colors[3], 2.2)
draw_paths(ax_bot, bot_green_thick, grain_colors[3], 3.4)
draw_points(ax_bot, bot_white_end, grain_colors[0], 0, marker="x")
draw_points(ax_bot, bot_magenta_start, grain_colors[1], grain_sizes[1])
draw_points(ax_bot, bot_magenta_end, grain_colors[1], 0, marker="x")
draw_points(ax_bot, bot_blue_start, grain_colors[2], grain_sizes[2])
draw_points(ax_bot, bot_blue_end, grain_colors[2], 0, marker="x")
draw_points(ax_bot, bot_green_start, grain_colors[3], grain_sizes[3])
draw_points(ax_bot, bot_green_end, grain_colors[3], 0, marker="x")
style_panel(ax_bot, 782, 1197)

# cut off line of body text above the figure
for word, left in zip(para_words, para_left_px):
    fig.text(left / W, 1 - 3 / H, word, fontsize=47, color="black", ha="left", va="baseline")

fig.savefig("out.png", dpi=100, facecolor="white")
